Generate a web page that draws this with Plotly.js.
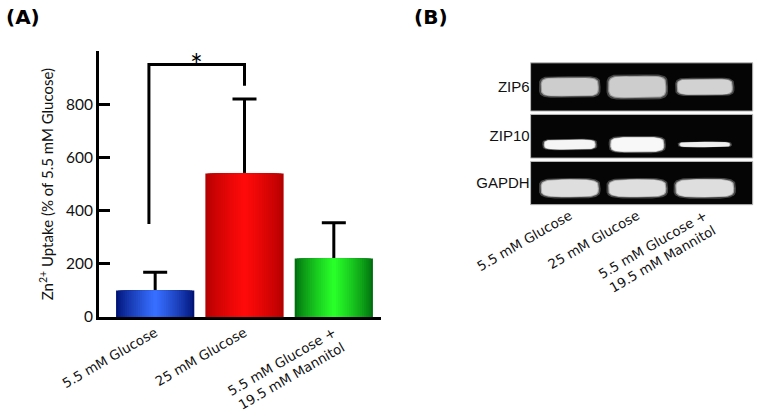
<!DOCTYPE html>
<html>
<head>
<meta charset="utf-8">
<script src="https://cdn.plot.ly/plotly-3.0.1.min.js"></script>
<style>
  html, body { margin: 0; padding: 0; background: #fff; }
  #chart { width: 758px; height: 416px; }
</style>
</head>
<body>
<div id="chart"></div>
<script>
// ---------- Panel A data ----------
const groups = ['5.5 mM Glucose', '25 mM Glucose', '5.5 mM Glucose +<br>19.5 mM Mannitol'];
const uptake = [100, 540, 220];          // Zn2+ uptake, % of 5.5 mM glucose
const uptakeSD = [68, 280, 135];         // upper error (SD)
const yTicks = [0, 200, 400, 600, 800];
const sigPair = [0, 1];                  // groups compared
const sigLevel = 950;                    // bracket height
const sigLegEnds = [350, 870];           // bracket leg bottoms
const sigLabel = '*';

// ---------- Panel B data (RT-PCR gel) ----------
const genes = ['ZIP6', 'ZIP10', 'GAPDH'];
const laneLabels = ['5.5 mM Glucose', '25 mM Glucose', '5.5 mM Glucose +<br>19.5 mM Mannitol'];
const zip6Band  = { width: [0.83, 0.83, 0.80], thick: [0.41, 0.48, 0.35], gray: [205, 205, 210] };
const zip10Band = { width: [0.74, 0.77, 0.73], thick: [0.23, 0.34, 0.12], gray: [245, 248, 240] };
const gapdhBand = { width: [0.83, 0.83, 0.84], thick: [0.39, 0.39, 0.40], gray: [222, 222, 222] };

// ---------- styling ----------
const edgeCol = [[0, 20, 120], [180, 0, 0], [0, 112, 15]];
const centCol = [[55, 110, 255], [255, 10, 10], [40, 255, 40]];
const barW = 0.876;
const nLayers = 18;
const catFont = { family: 'DejaVu Sans', size: 13.3, color: '#111' };

const traces = [];
const xIdx = groups.map((_, i) => i);

function mix(a, b, t) {
  return 'rgb(' + a.map((v, k) => Math.round(v + (b[k] - v) * t)).join(',') + ')';
}

for (let k = 0; k < nLayers; k++) {
  const t = k / (nLayers - 1);
  const w = barW * (1 - k / nLayers);
  const tr = {
    type: 'bar', x: xIdx, y: uptake, width: w,
    marker: { color: xIdx.map(i => mix(edgeCol[i], centCol[i], Math.pow(t, 0.8))), line: { width: 0 } },
    hoverinfo: 'skip', showlegend: false, xaxis: 'x', yaxis: 'y'
  };
  if (k === 0) {
    // lower end sinks into the bar and is hidden by the next bar layers
    tr.error_y = { type: 'data', symmetric: false, array: uptakeSD, arrayminus: uptake.map(v => Math.min(40, v * 0.4)),
                   thickness: 3, width: 12, color: '#000' };
  }
  traces.push(tr);
}

// significance bracket
traces.push({
  type: 'scatter', mode: 'lines',
  x: [sigPair[0] - 0.07, sigPair[0] - 0.07, sigPair[1], sigPair[1]],
  y: [sigLegEnds[0], sigLevel, sigLevel, sigLegEnds[1]],
  line: { color: '#000', width: 3 }, hoverinfo: 'skip', showlegend: false, xaxis: 'x', yaxis: 'y'
});

// gel bands
const bandSets = [zip6Band, zip10Band, gapdhBand];
const bandCenterY = [0.50, 0.31, 0.38];
const waist = [0.12, 0.05, 0.0];
const yAx = ['y2', 'y3', 'y4'];

function bandPath(cx, cy, a, b, wst, n) {
  const xs = [], ys = [];
  const N = 80;
  for (let j = 0; j <= N; j++) {
    const th = 2 * Math.PI * j / N;
    const c = Math.cos(th), s = Math.sin(th);
    const u = Math.sign(c) * Math.pow(Math.abs(c), 2 / n);
    const v = Math.sign(s) * Math.pow(Math.abs(s), 2 / n);
    xs.push(cx + a * u);
    ys.push(cy + b * v * (1 - wst * (1 - u * u)));
  }
  return { xs, ys };
}

bandSets.forEach((bs, g) => {
  bs.width.forEach((w, i) => {
    const gr = bs.gray[i];
    const layers = [
      { sc: 1.10, scy: 1.22, col: 'rgba(120,120,120,0.55)' },
      { sc: 1.04, scy: 1.08, col: 'rgba(' + (gr - 40) + ',' + (gr - 40) + ',' + (gr - 40) + ',0.9)' },
      { sc: 1.0, scy: 1.0, col: 'rgb(' + gr + ',' + gr + ',' + gr + ')' }
    ];
    layers.forEach(L => {
      const p = bandPath(i + 1, bandCenterY[g], w / 2 * L.sc, bs.thick[i] / 2 * L.scy, waist[g], 4);
      traces.push({
        type: 'scatter', mode: 'lines', x: p.xs, y: p.ys, fill: 'toself',
        fillcolor: L.col, line: { width: 0 }, hoverinfo: 'skip', showlegend: false,
        xaxis: 'x2', yaxis: yAx[g]
      });
    });
  });
});

const gelRowDomains = [[0.733, 0.849], [0.620, 0.725], [0.508, 0.612]];

const shapes = yAx.map(ya => ({
  type: 'rect', layer: 'below', xref: 'x2 domain', yref: ya + ' domain',
  x0: 0, x1: 1, y0: 0, y1: 1, fillcolor: '#050505', line: { width: 1, color: '#bbbbbb' }
}));

function gelY(g) {
  return {
    domain: gelRowDomains[g], range: [0, 1], anchor: 'x2', fixedrange: true,
    showgrid: false, zeroline: false, showline: false, ticks: '',
    tickvals: [0.5], ticktext: [genes[g]],
    tickfont: { family: 'Liberation Sans', size: 15, color: '#111' }
  };
}

const layout = {
  width: 758, height: 416,
  margin: { l: 0, r: 0, t: 0, b: 0 },
  paper_bgcolor: '#fff', plot_bgcolor: '#fff',
  showlegend: false, barmode: 'overlay',
  xaxis: {
    domain: [0.1306, 0.5026], range: [-0.629, 2.528], anchor: 'y',
    showline: true, linewidth: 3, linecolor: '#000', ticks: '',
    showgrid: false, zeroline: false,
    tickvals: xIdx, ticktext: groups, tickangle: -30, tickfont: catFont
  },
  yaxis: {
    domain: [0.238, 0.877], range: [0, 1000], anchor: 'x',
    showline: true, linewidth: 3, linecolor: '#000',
    ticks: 'inside', ticklen: 11, tickwidth: 3, tickcolor: '#000',
    tickvals: yTicks, showgrid: false, zeroline: false,
    tickfont: { family: 'Lato', size: 15.5, color: '#111' },
    title: { text: 'Zn<sup>2+</sup> Uptake (% of 5.5 mM Glucose)', font: { family: 'Lato', size: 15, color: '#111' }, standoff: 9 }
  },
  xaxis2: {
    domain: [0.700, 0.993], range: [0.42, 3.71], anchor: 'y4',
    showline: false, ticks: '', showgrid: false, zeroline: false,
    tickvals: [1, 2, 3], ticktext: laneLabels, tickangle: -30, tickfont: catFont
  },
  yaxis2: gelY(0), yaxis3: gelY(1), yaxis4: gelY(2),
  shapes: shapes,
  annotations: [
    { text: '<b>(A)</b>', xref: 'paper', yref: 'paper', x: 4 / 758, y: 1 - 3 / 416, xanchor: 'left', yanchor: 'top',
      showarrow: false, font: { family: 'DejaVu Sans', size: 20, color: '#000' } },
    { text: '<b>(B)</b>', xref: 'paper', yref: 'paper', x: 412 / 758, y: 1 - 3 / 416, xanchor: 'left', yanchor: 'top',
      showarrow: false, font: { family: 'DejaVu Sans', size: 20, color: '#000' } },
    { text: sigLabel, xref: 'x', yref: 'y', x: (sigPair[0] + sigPair[1]) / 2 - 0.04, y: sigLevel, xanchor: 'center', yanchor: 'bottom',
      yshift: -20, showarrow: false, font: { family: 'Lato', size: 30, color: '#000' } }
  ]
};

Plotly.newPlot('chart', traces, layout, { displayModeBar: false, staticPlot: true });
</script>
</body>
</html>
